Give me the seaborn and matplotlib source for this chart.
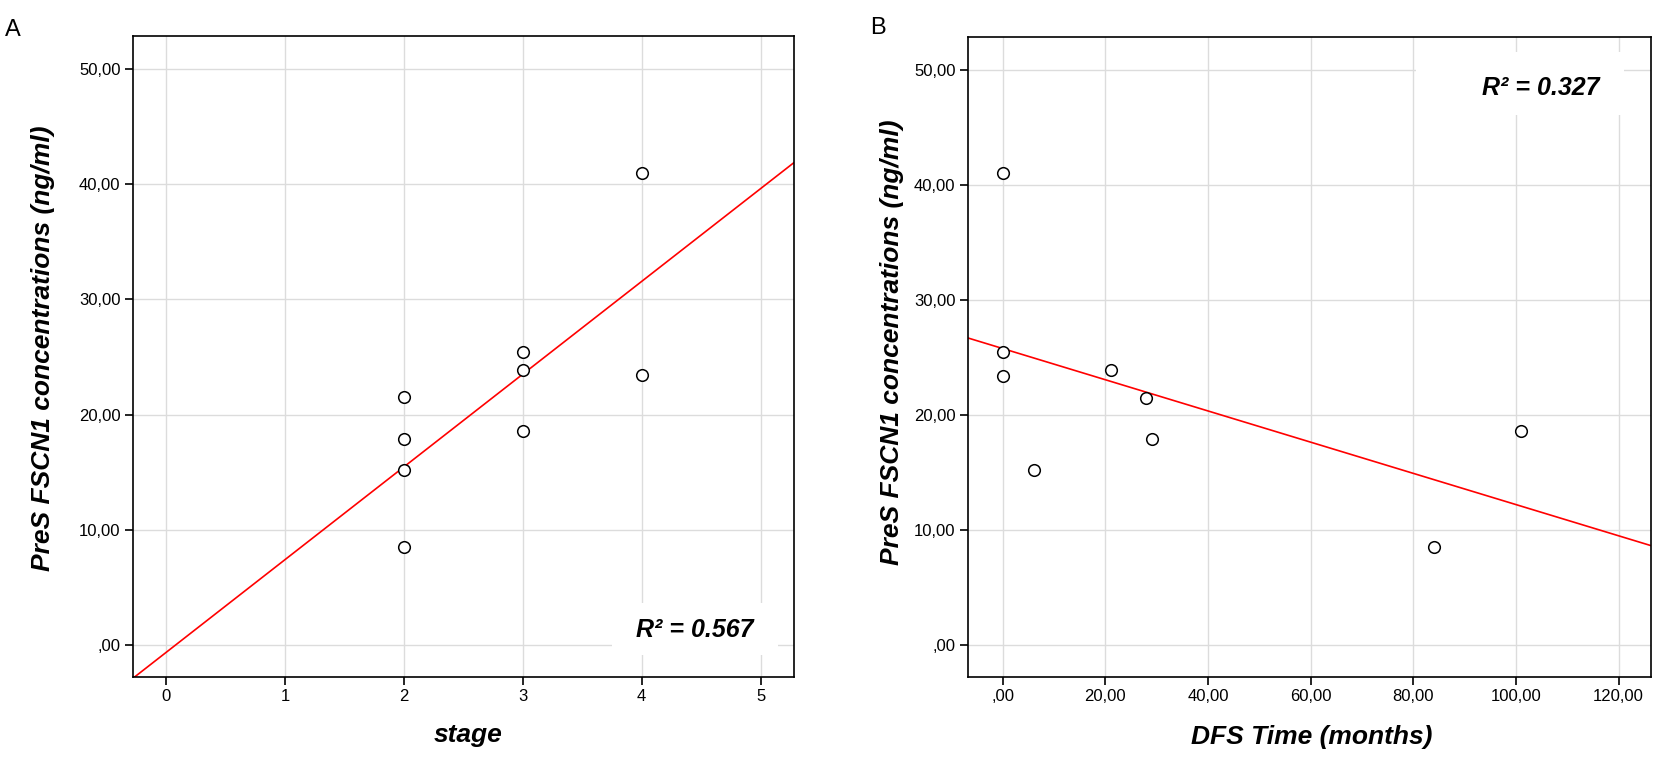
import numpy as np
import pandas as pd
import matplotlib
matplotlib.use("Agg")
import matplotlib.pyplot as plt
from matplotlib.patches import Rectangle
from matplotlib.ticker import FuncFormatter, MultipleLocator
import seaborn as sns

# data (same 9 patients in both)
stage = [2, 2, 2, 2, 3, 3, 3, 4, 4]
dfs_months = [28, 29, 6, 84, 0, 21, 101, 0, 0]
fscn1 = [21.5, 17.9, 15.2, 8.5, 25.45, 23.9, 18.6, 41.0, 23.4]

r2_stage = "0.567"
r2_dfs = "0.327"

ylabel = "PreS FSCN1 concentrations (ng/ml)"
xlabel_a = "stage"
xlabel_b = "DFS Time (months)"

df = pd.DataFrame({"stage": stage, "dfs": dfs_months, "fscn1": fscn1})

sns.set_theme(style="white")
plt.rcParams["font.family"] = ["Liberation Sans", "DejaVu Sans"]
for key in ["text.color", "axes.labelcolor", "xtick.color", "ytick.color"]:
    plt.rcParams[key] = "black"


def comma_fmt(v, pos):
    s = f"{v:.2f}".replace(".", ",")
    if s.startswith("0,"):
        s = s[1:]
    return s


def style_axes(ax):
    for sp in ax.spines.values():
        sp.set_color("black")
        sp.set_linewidth(1.2)
    ax.grid(True, color="#dcdcdc", linewidth=1.0)
    ax.set_axisbelow(True)
    ax.tick_params(axis="both", which="major", direction="out", length=6,
                   width=1.2, color="black", labelcolor="black", labelsize=12, pad=3,
                   bottom=True, left=True, top=False, right=False)
    ax.yaxis.set_major_locator(MultipleLocator(10))
    ax.yaxis.set_major_formatter(FuncFormatter(comma_fmt))
    ax.set_ylim(-2.78, 52.86)


lab_kw = dict(fontsize=19, fontweight="bold", fontstyle="italic", color="black")
r2_kw = dict(ha="center", va="center", fontsize=18, fontweight="bold",
             fontstyle="italic", color="black", zorder=5)

fig = plt.figure(figsize=(16.54, 7.57), dpi=100)
ax_a = fig.add_axes([0.0804, 0.1057, 0.3996, 0.8468])
ax_b = fig.add_axes([0.5852, 0.1057, 0.4129, 0.8455])

line_kws = {"color": "red", "linewidth": 1.2}
pt_kws = {"s": 70, "facecolor": "white", "edgecolor": "black", "linewidth": 1.1, "zorder": 4}

# ---- panel A: stage
ax_a.set_xlim(-0.278, 5.28)
style_axes(ax_a)
sns.regplot(data=df, x="stage", y="fscn1", ax=ax_a, scatter=False, ci=None,
            truncate=False, line_kws=line_kws)
sns.scatterplot(data=df, x="stage", y="fscn1", ax=ax_a, **pt_kws)
ax_a.set_xlim(-0.278, 5.28)
ax_a.xaxis.set_major_locator(MultipleLocator(1))
ax_a.add_patch(Rectangle((0.725, 0.034), 0.251, 0.081, transform=ax_a.transAxes,
                         facecolor="white", edgecolor="none", zorder=2))
ax_a.text(0.850, 0.073, f"R\u00b2 = {r2_stage}", transform=ax_a.transAxes, **r2_kw)
ax_a.set_xlabel(xlabel_a, **lab_kw)
ax_a.set_ylabel(ylabel, **lab_kw)
ax_a.xaxis.set_label_coords(0.507, -0.072)
ax_a.yaxis.set_label_coords(-0.118, 0.513)

# ---- panel B: DFS time
ax_b.set_xlim(-6.8, 126.3)
style_axes(ax_b)
sns.regplot(data=df, x="dfs", y="fscn1", ax=ax_b, scatter=False, ci=None,
            truncate=False, line_kws=line_kws)
sns.scatterplot(data=df, x="dfs", y="fscn1", ax=ax_b, **pt_kws)
ax_b.set_xlim(-6.8, 126.3)
ax_b.xaxis.set_major_locator(MultipleLocator(20))
ax_b.xaxis.set_major_formatter(FuncFormatter(comma_fmt))
ax_b.add_patch(Rectangle((0.656, 0.878), 0.304, 0.099, transform=ax_b.transAxes,
                         facecolor="white", edgecolor="none", zorder=2))
ax_b.text(0.839, 0.920, f"R\u00b2 = {r2_dfs}", transform=ax_b.transAxes, **r2_kw)
ax_b.set_xlabel(xlabel_b, **lab_kw)
ax_b.set_ylabel(ylabel, **lab_kw)
ax_b.xaxis.set_label_coords(0.504, -0.075)
ax_b.yaxis.set_label_coords(-0.093, 0.523)

fig.text(0.003, 0.975, "A", fontsize=17, va="top", ha="left", color="black")
fig.text(0.526, 0.978, "B", fontsize=17, va="top", ha="left", color="black")

fig.savefig("out.png", dpi=100)
